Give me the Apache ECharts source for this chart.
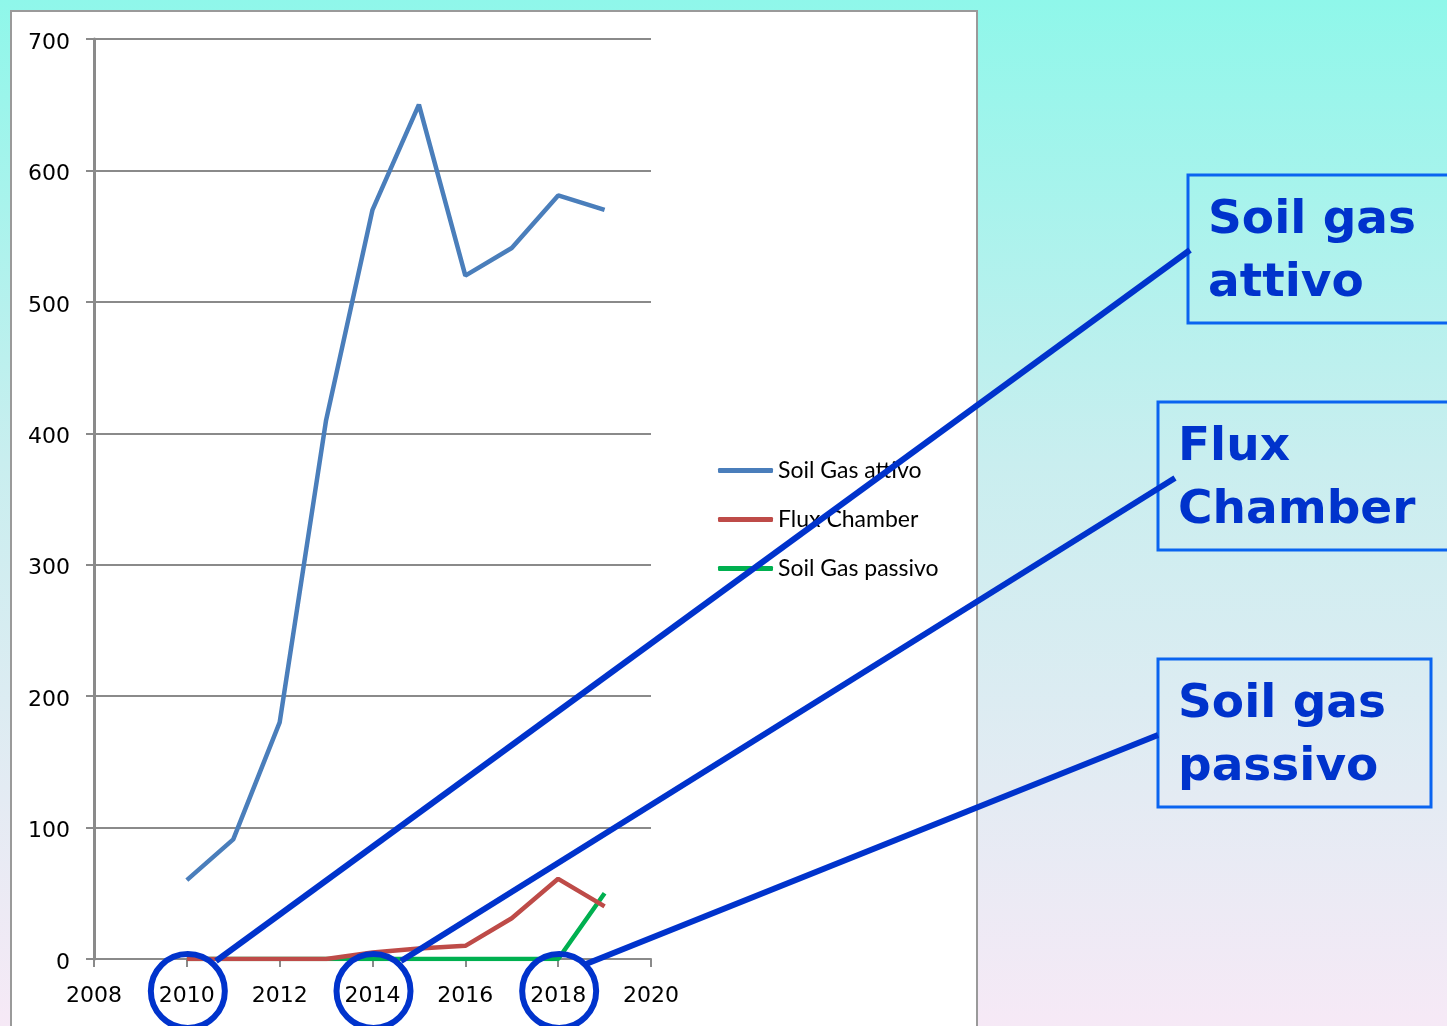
<!DOCTYPE html>
<html>
<head>
<meta charset="utf-8">
<title>Soil gas</title>
<script src="https://cdn.jsdelivr.net/npm/echarts@6/dist/echarts.min.js"></script>
<style>
  html, body { margin: 0; padding: 0; }
  body {
    width: 1447px; height: 1026px; overflow: hidden; position: relative;
    background: linear-gradient(to bottom, #8ff7ea 0%, #c9eeef 45%, #f6e9f6 100%);
  }
  .panel {
    position: absolute; left: 10px; top: 10px; width: 968px; height: 1030px;
    background: #fff; border: 2px solid #9a9a9a; box-sizing: border-box;
  }
  #chart { position: absolute; left: 0; top: 0; width: 1447px; height: 1026px; }
</style>
</head>
<body>
<div class="panel"></div>
<div id="chart"></div>
<script>
// dati
var years = [2010, 2011, 2012, 2013, 2014, 2015, 2016, 2017, 2018, 2019]
var soilGasAttivo = [60, 91, 180, 410, 570, 650, 520, 541, 581, 570]
var fluxChamber = [0, 0, 0, 0, 5, 8, 10, 31, 61, 40]
var soilGasPassivo = [0, 0, 0, 0, 0, 0, 0, 0, 0, 50]
var seriesNames = ['Soil Gas attivo', 'Flux Chamber', 'Soil Gas passivo']
var seriesColors = ['#4a7ebb', '#be4b48', '#00b050']
var circledYears = [2010, 2014, 2018]
var boxLabels = ['Soil gas\nattivo', 'Flux\nChamber', 'Soil gas\npassivo']

function pairs(vals) {
  return years.map(function (y, i) { return [y, vals[i]] })
}

var chart = echarts.init(document.getElementById('chart'))
var axisGray = '#8a8a8a'

var option = {
  animation: false,
  backgroundColor: 'transparent',
  grid: { left: 94, right: 796, top: 39, bottom: 67 },
  xAxis: {
    type: 'value', min: 2008, max: 2020, interval: 2,
    axisLine: { show: true, onZero: false, lineStyle: { color: axisGray, width: 2 } },
    axisTick: { show: true, length: 8, lineStyle: { color: axisGray, width: 2 } },
    axisLabel: {
      margin: 26, color: '#000', fontFamily: 'DejaVu Sans', fontSize: 22,
      formatter: function (v) { return String(v) },
    },
    splitLine: { show: false },
  },
  yAxis: {
    type: 'value', min: 0, max: 700, interval: 100,
    axisLine: { show: true, lineStyle: { color: axisGray, width: 3 } },
    axisTick: { show: true, length: 8, lineStyle: { color: axisGray, width: 2 } },
    axisLabel: {
      margin: 24, color: '#000', fontFamily: 'DejaVu Sans', fontSize: 22,
      formatter: function (v) { return '{a|' + v + '}' },
      rich: { a: { fontFamily: 'DejaVu Sans', fontSize: 22, color: '#000', padding: [8, 0, 0, 0] } },
    },
    splitLine: { show: true, lineStyle: { color: axisGray, width: 2 } },
  },
  legend: {
    orient: 'vertical', left: 718, top: 459, padding: 0,
    itemWidth: 55, itemHeight: 5, itemGap: 26,
    icon: 'roundRect',
    textStyle: { fontFamily: 'Lato', fontSize: 23, color: '#000', lineHeight: 23 },
    data: seriesNames,
  },
  series: [
    { name: seriesNames[0], type: 'line', data: pairs(soilGasAttivo) },
    { name: seriesNames[1], type: 'line', data: pairs(fluxChamber) },
    { name: seriesNames[2], type: 'line', data: pairs(soilGasPassivo) },
  ].map(function (s, i) {
    s.showSymbol = false
    s.symbol = 'none'
    s.color = seriesColors[i]
    s.lineStyle = { width: 4.5, color: seriesColors[i] }
    s.z = 3 - i
    return s
  }),
}
chart.setOption(option)

// annotazioni: cerchi sugli anni, linee e riquadri
var blue = '#0033cc'
var boxes = [
  { x: 1188, y: 175, w: 280, h: 148, end: [1190, 250] },
  { x: 1158, y: 402, w: 310, h: 148, end: [1175, 478] },
  { x: 1158, y: 659, w: 273, h: 148, end: [1158, 735] },
]
var starts = [[216, 961], [401, 961], [586, 964]]
var elements = []
circledYears.forEach(function (yr, i) {
  var p = chart.convertToPixel({ gridIndex: 0 }, [yr, 0])
  elements.push({
    type: 'circle', z: 100,
    shape: { cx: p[0] + 1, cy: p[1] + 32, r: 37 },
    style: { fill: null, stroke: blue, lineWidth: 6 },
  })
})
boxes.forEach(function (b, i) {
  elements.push({
    type: 'line', z: 100,
    shape: { x1: starts[i][0], y1: starts[i][1], x2: b.end[0], y2: b.end[1] },
    style: { stroke: blue, lineWidth: 6 },
  })
  elements.push({
    type: 'rect', z: 99,
    shape: { x: b.x, y: b.y, width: b.w, height: b.h },
    style: { fill: null, stroke: '#0a64f0', lineWidth: 3 },
  })
  elements.push({
    type: 'text', z: 101, x: b.x + 20, y: b.y + 14,
    style: {
      text: boxLabels[i], fill: blue,
      font: 'bold 47px "DejaVu Sans"', lineHeight: 63,
    },
  })
})
chart.setOption({ graphic: { elements: elements } })
</script>
</body>
</html>
